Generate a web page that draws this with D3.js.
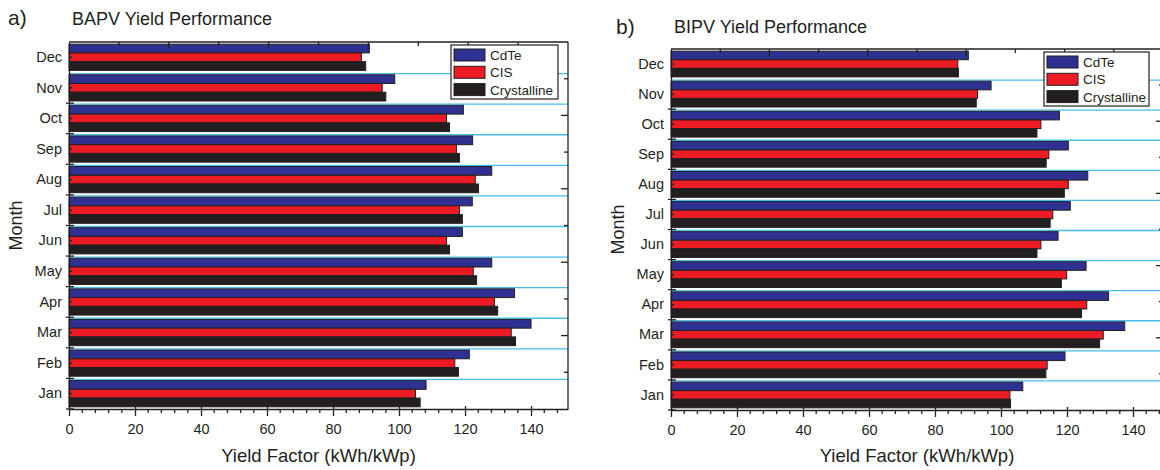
<!DOCTYPE html>
<html lang="en">
  <head>
    <meta charset="utf-8" />
    <title>BAPV / BIPV Yield Performance</title>
    <script src="https://cdn.jsdelivr.net/npm/d3@7"></script>
    <style>
      body { margin: 0; background: #fff; }
      svg { display: block; font-family: "Liberation Sans", Arial, sans-serif; }
      .frame line, .frame path { stroke: #231f20; stroke-width: 1.3px; }
      .bar { stroke: #231f20; stroke-width: 1px; }
      .sep { stroke: #45bdee; stroke-width: 1.3px; }
      .lbl { fill: #231f20; }
    </style>
  </head>
  <body>
    <script>
      // data
      const months = ["Jan", "Feb", "Mar", "Apr", "May", "Jun", "Jul", "Aug", "Sep", "Oct", "Nov", "Dec"];
      const seriesNames = ["CdTe", "CIS", "Crystalline"];
      const seriesColors = ["#2e3192", "#ed1c24", "#231f20"];

      const bapvCdTe = [108.2, 121.3, 140.0, 135.0, 128.1, 119.2, 122.2, 128.1, 122.3, 119.5, 98.7, 91.0];
      const bapvCIS = [105.0, 116.9, 134.0, 128.9, 122.5, 114.4, 118.3, 123.1, 117.4, 114.4, 94.9, 88.6];
      const bapvCrystalline = [106.4, 118.0, 135.3, 129.9, 123.5, 115.3, 119.2, 124.1, 118.3, 115.3, 96.0, 89.9];

      const bipvCdTe = [106.6, 119.4, 137.5, 132.6, 125.8, 117.3, 121.0, 126.3, 120.4, 117.7, 97.0, 90.1];
      const bipvCIS = [102.7, 114.0, 131.0, 126.0, 119.9, 112.1, 115.7, 120.4, 114.5, 112.1, 92.9, 86.9];
      const bipvCrystalline = [102.9, 113.6, 129.9, 124.4, 118.3, 110.9, 114.9, 119.2, 113.7, 110.9, 92.5, 87.1];

      const xTicks = [0, 20, 40, 60, 80, 100, 120, 140];

      let w = 1160;
      let h = 470;

      let svg = d3.select("body").append("svg").attr("width", w).attr("height", h);

      function panel(opt) {
        let g = svg.append("g");
        let x = d3.scaleLinear().domain([0, opt.xmax]).range([opt.x0, opt.x1]);
        let y = d3.scaleBand().domain(months.slice().reverse()).range([opt.y0, opt.y1]);
        let ys = d3.scaleBand().domain(seriesNames).range([0, y.bandwidth()]).paddingOuter(0.25);

        // separators between months
        g.selectAll(".sep")
          .data(months.slice(0, 11))
          .join("line")
          .attr("class", "sep")
          .attr("x1", opt.x0)
          .attr("x2", opt.x1)
          .attr("y1", (d) => y(d) + 1)
          .attr("y2", (d) => y(d) + 1);

        // bars
        let rows = [];
        months.forEach((m, i) => {
          opt.series.forEach((s, j) => rows.push({ month: m, name: seriesNames[j], value: s[i], c: seriesColors[j] }));
        });
        g.selectAll(".bar")
          .data(rows)
          .join("rect")
          .attr("class", "bar")
          .attr("x", x(0))
          .attr("y", (d) => y(d.month) + ys(d.name))
          .attr("width", (d) => x(d.value) - x(0))
          .attr("height", ys.bandwidth())
          .attr("fill", (d) => d.c);

        let fr = g.append("g").attr("class", "frame");

        // bottom axis
        let xAxis = d3.axisBottom(x).tickValues(xTicks).tickSizeInner(7).tickSizeOuter(0).tickFormat(d3.format("d"));
        let xa = fr.append("g").attr("transform", `translate(0,${opt.y1})`).call(xAxis);
        xa.selectAll(".tick line").attr("y1", -3);
        xa.selectAll("text")
          .attr("y", 15)
          .attr("dy", "0.71em")
          .attr("fill", "#231f20")
          .style("font-size", "14.5px")
          .style("font-family", "'Liberation Sans', Arial, sans-serif");
        let minor = d3.range(0, opt.xmax, 4).filter((v) => v % 20 !== 0);
        fr.selectAll(".xminor")
          .data(minor)
          .join("line")
          .attr("x1", (d) => x(d))
          .attr("x2", (d) => x(d))
          .attr("y1", opt.y1)
          .attr("y2", opt.y1 + 4);

        // left axis
        let yAxis = d3.axisLeft(y).tickSizeInner(-3).tickSizeOuter(0);
        let ya = fr.append("g").attr("transform", `translate(${opt.x0},0)`).call(yAxis);
        ya.selectAll("text")
          .attr("x", -7)
          .attr("fill", "#231f20")
          .style("font-size", "14.5px")
          .style("font-family", "'Liberation Sans', Arial, sans-serif");
        fr.selectAll(".ymajor")
          .data(months.slice(0, 11))
          .join("line")
          .attr("x1", opt.x0 - 3)
          .attr("x2", opt.x0 + 5)
          .attr("y1", (d) => y(d) + y.bandwidth())
          .attr("y2", (d) => y(d) + y.bandwidth());

        // top and right frame with generic ticks
        let t = d3.scaleLinear().domain([0, 10]).range([opt.x0, opt.x1]);
        let r = d3.scaleLinear().domain([0, 10]).range([opt.y1, opt.y0]);
        fr.append("line").attr("x1", opt.x0).attr("x2", opt.x1).attr("y1", opt.y0).attr("y2", opt.y0);
        fr.append("line").attr("x1", opt.x1).attr("x2", opt.x1).attr("y1", opt.y0).attr("y2", opt.y1);
        fr.selectAll(".ttick")
          .data(t.ticks(10).slice(1, 10))
          .join("line")
          .attr("x1", (d) => t(d))
          .attr("x2", (d) => t(d))
          .attr("y1", opt.y0)
          .attr("y2", (d) => opt.y0 + (d % 2 ? 4 : 7));
        fr.selectAll(".rtick")
          .data(r.ticks(10).slice(1, 10))
          .join("line")
          .attr("x1", opt.x1)
          .attr("x2", (d) => opt.x1 - (d % 2 ? 4 : 7))
          .attr("y1", (d) => r(d))
          .attr("y2", (d) => r(d));

        // titles
        g.append("text").attr("class", "lbl").attr("x", opt.tagX).attr("y", opt.tagY).style("font-size", "21px").text(opt.tag);
        g.append("text").attr("class", "lbl").attr("x", opt.x0 + 3).attr("y", opt.titleY).style("font-size", "18px").text(opt.title);
        g.append("text")
          .attr("class", "lbl")
          .attr("x", (opt.x0 + opt.x1) / 2)
          .attr("y", 462)
          .attr("text-anchor", "middle")
          .style("font-size", "18.5px")
          .text("Yield Factor (kWh/kWp)");
        g.append("text")
          .attr("class", "lbl")
          .attr("transform", `translate(${opt.x0 - 47},${(opt.y0 + opt.y1) / 2}) rotate(-90)`)
          .attr("text-anchor", "middle")
          .style("font-size", "18px")
          .text("Month");

        // legend
        let lg = g.append("g").attr("transform", `translate(${opt.legX},${opt.legY})`);
        lg.append("rect").attr("width", opt.legW).attr("height", 54).attr("fill", "#fff").attr("stroke", "#231f20").attr("stroke-width", 1.2);
        let items = lg.selectAll(".item").data(seriesNames).join("g").attr("transform", (d, i) => `translate(3,${4 + i * 17.3})`);
        items.append("rect").attr("width", 31).attr("height", 12).attr("fill", (d, i) => seriesColors[i]).attr("stroke", "#231f20");
        items.append("text").attr("class", "lbl").attr("x", 36).attr("y", 11).style("font-size", "13.5px").text((d) => d);
      }

      panel({
        x0: 69, x1: 568, y0: 42, y1: 409, xmax: 151.2,
        series: [bapvCdTe, bapvCIS, bapvCrystalline],
        tag: "a)", tagX: 8, tagY: 25, title: "BAPV Yield Performance", titleY: 25,
        legX: 451, legY: 45, legW: 107
      });
      panel({
        x0: 671, x1: 1163, y0: 49, y1: 410, xmax: 149.1,
        series: [bipvCdTe, bipvCIS, bipvCrystalline],
        tag: "b)", tagX: 616, tagY: 34, title: "BIPV Yield Performance", titleY: 33,
        legX: 1044, legY: 52, legW: 105
      });
    </script>
  </body>
</html>
